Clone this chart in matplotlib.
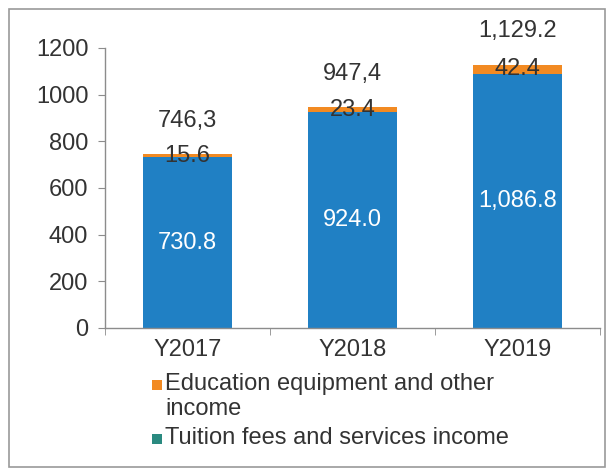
import matplotlib
matplotlib.use("Agg")
import matplotlib.pyplot as plt
from matplotlib.patches import Rectangle

categories = ["Y2017", "Y2018", "Y2019"]
tuition = [730.8, 924.0, 1086.8]
equipment = [15.6, 23.4, 42.4]
totals = [746.3, 947.4, 1129.2]
tuition_labels = ["730.8", "924.0", "1,086.8"]
equipment_labels = ["15.6", "23.4", "42.4"]
total_labels = ["746,3", "947,4", "1,129.2"]
yticks = [0, 200, 400, 600, 800, 1000, 1200]
legend_labels = ["Education equipment and other\nincome", "Tuition fees and services income"]

BLUE = "#2080c4"
ORANGE = "#f28a22"
TEAL = "#2a8a80"
TXT = "#333333"
AX = "#8c8c8c"
FS = 17

plt.rcParams["font.family"] = ["Liberation Sans", "DejaVu Sans"]

W, H = 614, 474
fig = plt.figure(figsize=(W / 100, H / 100), dpi=100)
ax = fig.add_axes([105 / W, 1 - 328 / H, 495 / W, 280 / H])

x = list(range(len(categories)))
bw = 0.545
ax.bar(x, tuition, width=bw, color=BLUE, zorder=2)
ax.bar(x, equipment, width=bw, bottom=tuition, color=ORANGE, zorder=2)

for i in x:
    ax.text(i, tuition[i] / 2, tuition_labels[i], ha="center", va="center",
            color="white", fontsize=FS, zorder=3)
    ax.text(i, tuition[i] + equipment[i] / 2, equipment_labels[i], ha="center",
            va="center", color=TXT, fontsize=FS, zorder=3)
    ax.annotate(total_labels[i], (i, totals[i]), xytext=(0, 24),
                textcoords="offset points", ha="center", va="center",
                color=TXT, fontsize=FS)

ax.set_xlim(-0.5, 2.5)
ax.set_ylim(0, 1200)
ax.set_yticks(yticks)
ax.set_yticklabels([str(v) for v in yticks])
ax.set_xticks(x)
ax.set_xticklabels(categories)
ax.set_xticks([-0.5, 0.5, 1.5, 2.5], minor=True)
ax.tick_params(axis="x", which="major", length=0, pad=8, labelsize=FS, labelcolor=TXT)
ax.tick_params(axis="x", which="minor", length=5, color=AX, direction="out")
ax.tick_params(axis="y", length=5, color=AX, labelsize=FS, labelcolor=TXT, pad=7)
for s in ["top", "right"]:
    ax.spines[s].set_visible(False)
for s in ["left", "bottom"]:
    ax.spines[s].set_color(AX)
    ax.spines[s].set_linewidth(1.0)

# legend (manual, to match the wrapped layout)
def px(xp, yp):
    return xp / W, 1 - yp / H

sq = 10
for (yc, col, lab) in [(385, ORANGE, legend_labels[0]), (439, TEAL, legend_labels[1])]:
    x0, y0 = px(152, yc + sq / 2)
    fig.patches.append(Rectangle((x0, y0), sq / W, sq / H, transform=fig.transFigure,
                                 facecolor=col, edgecolor="none"))
    tx, ty = px(165, yc - 12)
    fig.text(tx, ty, lab, ha="left", va="top", fontsize=FS, color=TXT, linespacing=1.2)

# outer frame
fig.patches.append(Rectangle((9 / W, 1 - 467 / H), 596 / W, 458 / H, transform=fig.transFigure,
                             facecolor="none", edgecolor="#9a9a9a", linewidth=1.2))

fig.savefig("out.png", dpi=100)
